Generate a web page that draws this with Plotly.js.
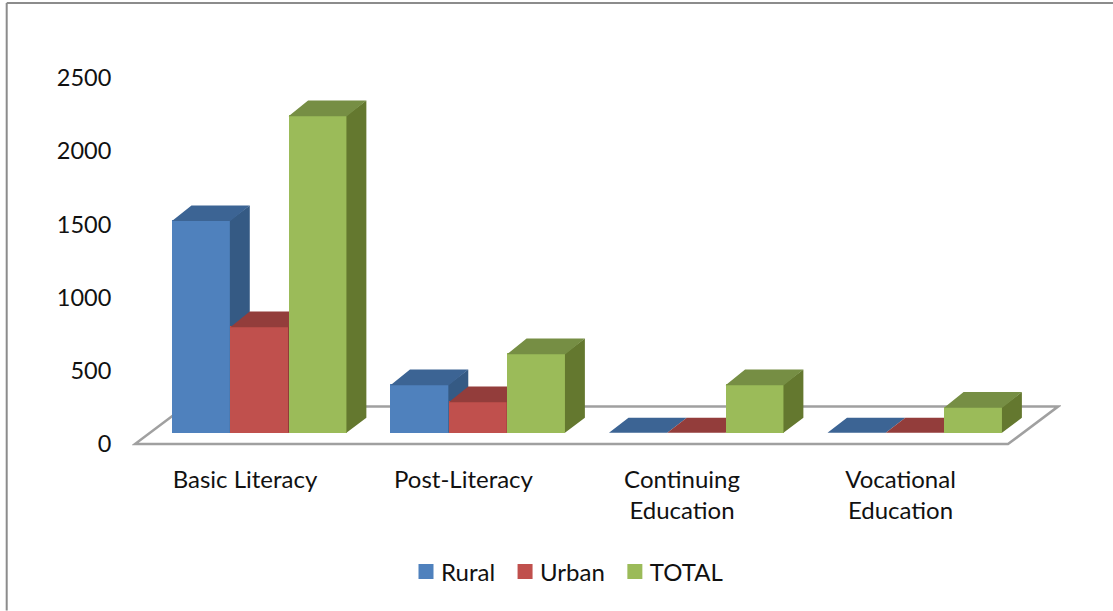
<!DOCTYPE html>
<html>
<head>
<meta charset="utf-8">
<script src="https://cdn.plot.ly/plotly-3.0.1.min.js"></script>
<style>
html,body{margin:0;padding:0;background:#fff}
#chart{width:1113px;height:611px}
#chart .legendsymbols{transform:translate(5px,0)}
</style>
</head>
<body>
<div id="chart"></div>
<script>
const categories = ['Basic Literacy', 'Post-Literacy', 'Continuing<br>Education', 'Vocational<br>Education'];
const rural = [1450, 329, 0, 0];
const urban = [725, 213, 0, 0];
const total = [2166, 541, 329, 175];
const yTicks = [0, 500, 1000, 1500, 2000, 2500];

const W = 1113, H = 611;
const M = {l: 132, r: 52, t: 78, b: 163.57};
const xRange = [-0.5171, 3.7345];
const yRange = [-20, 2500];
const FONT = 'Lato, Calibri, sans-serif';

// 3-D look: offsets of the back face, in axis units
const depthX = 0.0892, depthY = 102, floorLift = 78, barW = 0.2668, lip = 5;
// floor outline, in axis units
const floorL = -0.5034, floorFrontR = 3.4920, floorR = 3.7208, floorBackL = -0.2746, floorBack = 255.8;

const seriesList = [
  {name: 'Rural', v: rural, off: -0.3341, front: '#4F81BD', top: '#3C6494', side: '#355A84'},
  {name: 'Urban', v: urban, off: -0.0673, front: '#C0504D', top: '#933D3B', side: '#8A3836'},
  {name: 'TOTAL', v: total, off:  0.1995, front: '#9BBB59', top: '#768E44', side: '#64782F'}
];

const traces = [];
seriesList.forEach((s, k) => {
  const sfx = k === 0 ? '' : String(k + 1);
  const xa = 'x' + sfx, ya = 'y' + sfx;
  traces.push({
    type: 'bar', name: s.name, x: s.v.map((_, i) => i), y: s.v,
    base: s.v.map(() => floorLift), width: barW, offset: s.off,
    marker: {color: s.front, line: {width: 0}}, xaxis: xa, yaxis: ya,
    showlegend: false, hoverinfo: 'x+y'
  });
  const topX = [], topY = [], sideX = [], sideY = [];
  s.v.forEach((val, i) => {
    const l = i + s.off, r = l + barW, b = floorLift, t = b + val;
    const e = val > 0 ? lip : 0;
    topX.push(l, r, r + depthX, l + depthX, l, null);
    topY.push(t - e, t - e, t + depthY, t + depthY, t - e, null);
    if (val > 0) {
      sideX.push(r - 0.002, r + depthX, r + depthX, r - 0.002, r - 0.002, null);
      sideY.push(b, b + depthY, t + depthY, t, b, null);
    }
  });
  [[sideX, sideY, s.side], [topX, topY, s.top]].forEach(([px, py, c]) => {
    traces.push({
      type: 'scatter', mode: 'none', x: px, y: py, fill: 'toself', fillcolor: c,
      xaxis: xa, yaxis: ya, showlegend: false, hoverinfo: 'skip'
    });
  });
  // legend entry
  traces.push({
    type: 'scatter', mode: 'markers', name: s.name, x: [null], y: [null],
    marker: {symbol: 'square', size: 15, color: s.front},
    xaxis: xa, yaxis: ya, showlegend: true
  });
});

const hiddenX = {visible: false, range: xRange, overlaying: 'x', fixedrange: true};
const hiddenY = {visible: false, range: yRange, overlaying: 'y', fixedrange: true};
const px = v => (v - M.l) / (W - M.l - M.r);
const py = v => 1 - (v - M.t) / (H - M.t - M.b);
const grey = {color: '#A0A0A0', width: 2.5};
const frame = {color: '#8C8C8C', width: 2};

const layout = {
  width: W, height: H, margin: M, autosize: false,
  paper_bgcolor: '#FFFFFF', plot_bgcolor: 'rgba(0,0,0,0)',
  showlegend: true, bargap: 0,
  font: {family: FONT, size: 24, color: '#000000'},
  xaxis: {
    type: 'linear', range: xRange, tickmode: 'array', tickvals: categories.map((_, i) => i),
    ticktext: categories, showgrid: false, zeroline: false, showline: false,
    ticks: 'outside', ticklen: 11, tickcolor: 'rgba(0,0,0,0)', fixedrange: true,
    tickfont: {family: FONT, size: 24, color: '#111111'}
  },
  yaxis: {
    type: 'linear', range: yRange, tickmode: 'array', tickvals: yTicks,
    showgrid: false, zeroline: false, showline: false,
    ticks: 'outside', ticklen: 15, tickcolor: 'rgba(0,0,0,0)', fixedrange: true,
    ticklabelshift: 2.5,
    tickfont: {family: FONT, size: 23.5, color: '#111111'}
  },
  xaxis2: hiddenX, xaxis3: hiddenX,
  yaxis2: hiddenY, yaxis3: hiddenY,
  legend: {
    orientation: 'h', x: px(401), y: py(550), xanchor: 'left', yanchor: 'top',
    font: {family: FONT, size: 24, color: '#111111'},
    bgcolor: 'rgba(0,0,0,0)', itemclick: false, itemdoubleclick: false
  },
  shapes: [
    // floor of the 3-D plot
    {type: 'path', layer: 'below', xref: 'x', yref: 'y', line: grey, fillcolor: '#FFFFFF',
     path: `M ${floorL} 0 L ${floorFrontR} 0 L ${floorR} ${floorBack} L ${floorBackL} ${floorBack} Z`},
    // outer frame
    {type: 'line', layer: 'below', xref: 'paper', yref: 'paper', x0: px(6.7), x1: px(1113), y0: py(3), y1: py(3), line: frame},
    {type: 'line', layer: 'below', xref: 'paper', yref: 'paper', x0: px(6.7), x1: px(6.7), y0: py(3), y1: py(611), line: frame}
  ]
};

Plotly.newPlot('chart', traces, layout, {displayModeBar: false, responsive: false});
</script>
</body>
</html>
